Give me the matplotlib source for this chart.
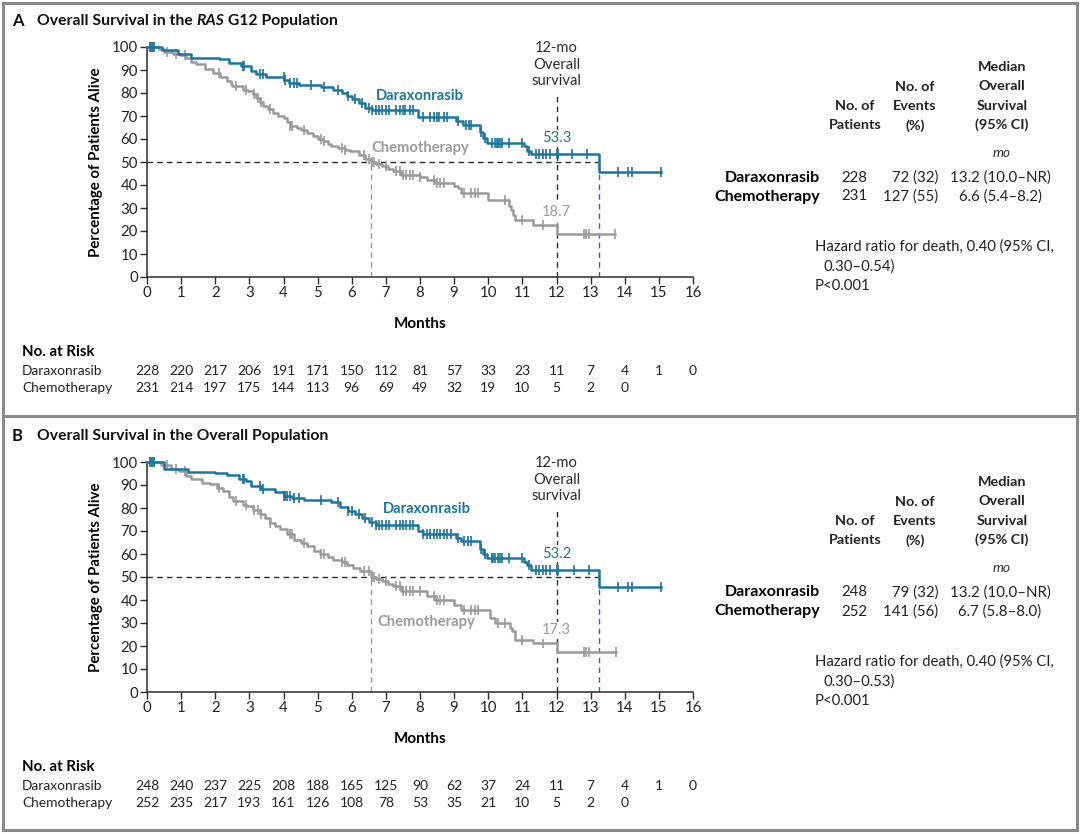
import numpy as np
import matplotlib
matplotlib.use('Agg')
import matplotlib.pyplot as plt
from matplotlib.lines import Line2D
from matplotlib.transforms import blended_transform_factory

plt.rcParams['font.family'] = ['Lato', 'DejaVu Sans']

TEAL = '#1a76a0'
GRAY = '#9b9b9b'
DARK = '#2b2b2b'

months = list(range(17))

# Panel A - RAS G12 population (step times, survival after step, last time)
a_dara_t = [0, 0.45, 0.9, 1.3, 2.1, 2.4, 2.75, 3.05, 3.2, 3.5, 4.02, 4.15, 4.45, 5.1, 5.45, 5.7,
            5.85, 6.0, 6.2, 6.4, 6.6, 7.95, 9.05, 9.25, 9.75, 9.85, 9.95, 11.05, 11.15, 11.25, 13.25, 15.06]
a_dara_s = [100, 98.5, 97, 95.3, 94.6, 93.2, 91.7, 89.5, 88.1, 87.1, 85.5, 84.4, 83.3, 82.7, 81.5, 80.1,
            78.5, 77.2, 75.5, 73.6, 72.5, 69.6, 67.7, 66.3, 63, 60.5, 58.3, 56.9, 55, 53.3, 45.5, 45.5]
a_dara_cens = [0.1, 0.15, 0.2, 2.8, 2.85, 3.3, 3.4, 4.0, 4.05, 4.2, 4.3, 4.4, 4.8, 5.2, 5.6, 5.9, 6.1,
               6.3, 6.5, 6.6, 6.7, 6.8, 6.9, 7.0, 7.1, 7.3, 7.4, 7.5, 7.55, 7.7, 7.8, 8.1, 8.3, 8.4,
               8.5, 8.55, 8.7, 8.8, 9.1, 9.35, 9.45, 9.5, 9.8, 9.9, 10.1, 10.2, 10.25, 10.3, 10.35,
               10.4, 10.6, 11.0, 11.2, 11.4, 11.5, 11.6, 11.7, 11.8, 12.0, 12.05, 12.45, 12.9, 13.8,
               14.1, 14.2, 15.06]

a_chemo_t = [0, 0.35, 0.5, 0.75, 0.97, 1.15, 1.3, 1.45, 1.7, 1.94, 2.15, 2.33, 2.45, 2.5, 2.8, 2.95,
             3.1, 3.2, 3.3, 3.4, 3.55, 3.7, 3.85, 4.0, 4.1, 4.2, 4.4, 4.5, 4.7, 4.85, 5.0, 5.15, 5.3,
             5.4, 5.6, 5.8, 5.95, 6.2, 6.4, 6.55, 6.7, 6.9, 7.05, 7.2, 7.45, 8.0, 8.2, 8.45, 9.0, 9.1,
             9.2, 10.0, 10.6, 10.67, 10.72, 10.77, 11.3, 12.0, 13.7]
a_chemo_s = [100, 99, 98, 97, 96.5, 95, 93.5, 92.4, 90.5, 88.8, 87, 85.2, 84, 83, 81.5, 80.8,
             79.5, 77.9, 76, 74.3, 73, 71.4, 70, 69.2, 67.5, 65.6, 64.8, 64.1, 62.5, 61.2, 60, 59, 57.8,
             56.8, 56, 55.4, 54.6, 53.2, 51.5, 49.8, 49, 48.1, 47, 45.9, 44.5, 43.4, 42.3, 40.8, 39.7, 38.7,
             36.5, 33.6, 31, 29.2, 27, 24.9, 22.7, 18.7, 18.7]
a_chemo_cens = [0.1, 0.15, 0.2, 0.6, 0.85, 1.1, 2.1, 2.6, 2.9, 3.15, 3.25, 3.35, 3.6, 4.2, 4.25, 4.6,
                5.1, 5.2, 5.7, 5.8, 6.35, 6.5, 6.6, 6.65, 6.8, 7.0, 7.3, 7.4, 7.5, 7.6, 7.7, 7.8, 8.0,
                8.4, 8.5, 8.6, 8.7, 9.3, 9.5, 9.6, 9.7, 10.5, 11.0, 11.6, 12.8, 12.85, 12.95, 13.7]

# Panel B - overall population
b_dara_t = [0, 0.5, 1.2, 2.0, 2.35, 2.7, 2.9, 3.05, 3.35, 3.75, 4.0, 4.25, 4.6, 5.4, 5.65, 5.9, 6.1,
            6.3, 6.5, 6.7, 7.95, 8.1, 9.05, 9.2, 9.75, 9.85, 9.95, 11.05, 11.15, 11.25, 13.25, 15.06]
b_dara_s = [100, 97, 95.6, 95.1, 94.3, 92.5, 91.6, 89.7, 88.3, 87.1, 85.4, 84.2, 83.5, 82.5, 80.4, 78.7, 77.2,
            75.5, 74, 72.4, 70.2, 68.5, 67, 65.6, 62, 60, 58.3, 56.5, 55.4, 53.2, 45.7, 45.7]
b_dara_cens = [0.1, 0.15, 0.2, 2.8, 2.85, 3.3, 3.4, 4.0, 4.05, 4.1, 4.2, 4.3, 4.45, 5.1, 5.6, 5.9, 6.0,
               6.2, 6.4, 6.6, 6.7, 6.8, 6.9, 7.0, 7.1, 7.3, 7.4, 7.5, 7.6, 7.7, 7.8, 8.1, 8.2, 8.3,
               8.4, 8.5, 8.6, 8.7, 8.8, 8.9, 9.1, 9.3, 9.4, 9.5, 9.8, 9.9, 10.1, 10.15, 10.2, 10.3, 10.35,
               10.4, 10.6, 11.0, 11.2, 11.4, 11.5, 11.6, 11.7, 11.8, 12.0, 12.05, 12.5, 12.95, 13.8,
               14.1, 14.2, 15.06]

b_chemo_t = [0, 0.4, 0.7, 0.95, 1.15, 1.3, 1.6, 1.85, 2.05, 2.24, 2.4, 2.53, 2.8, 2.92, 3.1, 3.3,
             3.45, 3.6, 3.75, 3.9, 4.1, 4.3, 4.5, 4.7, 4.9, 5.07, 5.3, 5.46, 5.7, 5.85, 6.05, 6.24, 6.55,
             6.7, 6.9, 7.05, 7.2, 7.45, 8.2, 8.45, 9.0, 9.2, 10.05, 10.2, 10.65, 10.7, 10.77, 11.3, 12.0, 13.74]
b_chemo_s = [100, 98.5, 97, 96.1, 94, 92.5, 91, 90.3, 88.5, 87.4, 85, 83, 81.5, 80.8, 79, 77.2,
             75.5, 73.6, 72, 70.7, 68.5, 66.3, 65, 63.4, 61.5, 59.8, 58.5, 57.6, 56.5, 55.4, 54, 52.5, 49.8,
             49, 48.2, 47, 46, 43.8, 41.6, 40.2, 38, 35.8, 32.2, 30, 28, 26.4, 22.8, 21.3, 17.3, 17.3]
b_chemo_cens = [0.1, 0.15, 0.2, 0.6, 0.85, 1.1, 2.1, 2.6, 2.9, 3.15, 3.25, 3.35, 3.6, 4.2, 4.25, 4.6,
                5.1, 5.2, 5.7, 5.8, 6.35, 6.5, 6.6, 6.65, 6.8, 7.0, 7.3, 7.4, 7.5, 7.6, 7.7, 7.8, 8.0,
                8.4, 8.5, 8.6, 8.7, 9.3, 9.5, 9.6, 9.7, 10.3, 10.5, 11.0, 11.6, 12.8, 12.85, 12.95, 13.74]

a_risk_dara = ['228', '220', '217', '206', '191', '171', '150', '112', '81', '57', '33', '23', '11', '7', '4', '1', '0']
a_risk_chemo = ['231', '214', '197', '175', '144', '113', '96', '69', '49', '32', '19', '10', '5', '2', '0']
b_risk_dara = ['248', '240', '237', '225', '208', '188', '165', '125', '90', '62', '37', '24', '11', '7', '4', '1', '0']
b_risk_chemo = ['252', '235', '217', '193', '161', '126', '108', '78', '53', '35', '21', '10', '5', '2', '0']

a_table = {'dara': ('228', '72 (32)', '13.2 (10.0\u2013NR)'),
           'chemo': ('231', '127 (55)', '6.6 (5.4\u20138.2)'),
           'hr': 'Hazard ratio for death, 0.40 (95% CI,', 'ci': '0.30\u20130.54)'}
b_table = {'dara': ('248', '79 (32)', '13.2 (10.0\u2013NR)'),
           'chemo': ('252', '141 (56)', '6.7 (5.8\u20138.0)'),
           'hr': 'Hazard ratio for death, 0.40 (95% CI,', 'ci': '0.30\u20130.53)'}

a_os12 = ('53.3', '18.7')
b_os12 = ('53.2', '17.3')

W, H = 1080, 834
fig = plt.figure(figsize=(W / 100, H / 100), dpi=100)


def fx(x):
    return x / W


def fy(y):
    return 1 - y / H


def surv_at(ts, ss, x):
    idx = np.searchsorted(ts, x, side='right') - 1
    return np.array(ss)[np.clip(idx, 0, len(ss) - 1)]


def median_time(ts, ss):
    for t, s in zip(ts, ss):
        if s < 50:
            return t
    return None


def draw_panel(y0, letter, title_parts, dara, chemo, os12, labels, risk, table):
    # y0: pixel offset of the panel
    ax = fig.add_axes([fx(147), fy(277 + y0), fx(693) - fx(147), fy(47 + y0) - fy(277 + y0)])
    for (ts, ss, cens), col in ((chemo, GRAY), (dara, TEAL)):
        ax.step(ts, ss, where='post', color=col, lw=1.8, clip_on=False, zorder=3)
        ax.plot(cens, surv_at(ts, ss, cens), ls='none', marker='|', ms=7, mew=1.2,
                color=col, clip_on=False, zorder=3)

    md = median_time(dara[0], dara[1])
    mc = median_time(chemo[0], chemo[1])
    ax.plot([0, md], [50, 50], ls=(0, (4, 3)), color=DARK, lw=1, zorder=2)
    ax.plot([12, 12], [0, 80], ls=(0, (4, 3)), color=DARK, lw=1, zorder=2)
    ax.plot([mc, mc], [0, 50], ls=(0, (4, 3)), color=GRAY, lw=1, zorder=2)
    ax.plot([md, md], [0, 50], ls=(0, (4, 3)), color=TEAL, lw=1, zorder=2)

    ax.text(12, 92.3, '12-mo\nOverall\nsurvival', ha='center', va='center', fontsize=10.6,
            color=DARK, linespacing=1.25)
    box = dict(facecolor='white', edgecolor='none', pad=1.0)
    ax.text(12, surv_at(dara[0], dara[1], 12) + 7, os12[0], ha='center', va='center',
            fontsize=10.6, color=TEAL, bbox=box, zorder=4)
    ax.text(12, surv_at(chemo[0], chemo[1], 12) + 9.5, os12[1], ha='center', va='center',
            fontsize=10.6, color=GRAY, bbox=box, zorder=4)
    (dx, dy), (cx, cy) = labels
    ax.text(dx, dy, 'Daraxonrasib', ha='center', va='center', fontsize=10.6,
            fontweight='bold', color=TEAL)
    ax.text(cx, cy, 'Chemotherapy', ha='center', va='center', fontsize=10.6,
            fontweight='bold', color=GRAY)

    ax.set_xlim(0, 16)
    ax.set_ylim(0, 100)
    ax.set_xticks(months)
    ax.set_yticks(range(0, 101, 10))
    for side in ('top', 'right'):
        ax.spines[side].set_visible(False)
    for side in ('left', 'bottom'):
        ax.spines[side].set_color(DARK)
        ax.spines[side].set_linewidth(1.1)
    ax.tick_params(direction='out', length=5, width=1, color=DARK, labelsize=10.8,
                   labelcolor='#222222', pad=1.5)
    ax.set_xlabel('Months', fontsize=11, fontweight='bold', labelpad=12)
    ax.set_ylabel('Percentage of Patients Alive', fontsize=10.8, fontweight='bold', labelpad=6)
    ax.patch.set_alpha(0)

    # title
    r = fig.canvas.get_renderer()
    fig.text(fx(12), fy(21 + y0), letter, fontsize=12, fontweight='bold', va='center', color='#111')
    x = fx(37)
    for txt, style in title_parts:
        t = fig.text(x, fy(21 + y0), txt, fontsize=11.3, fontweight='bold', style=style,
                     va='center', color='#111')
        x = t.get_window_extent(renderer=r).x1 / W

    # numbers at risk
    tr = blended_transform_factory(ax.transData, fig.transFigure)
    fig.text(fx(22), fy(352 + y0), 'No. at Risk', fontsize=10.8, fontweight='bold', va='center')
    for row, (name, vals) in enumerate((('Daraxonrasib', risk[0]), ('Chemotherapy', risk[1]))):
        yy = fy(371 + y0 + row * 17)
        fig.text(fx(22), yy, name, fontsize=9.9, va='center', color='#222')
        for m, v in zip(months, vals):
            fig.text(m, yy, v, transform=tr, fontsize=10, ha='center', va='center', color='#222')

    # summary table
    hdr = dict(fontsize=10.4, fontweight='bold', ha='center', va='center', color='#222')
    for i, line in enumerate(['No. of', 'Patients']):
        fig.text(fx(855), fy(106 + y0 + i * 19.3), line, **hdr)
    for i, line in enumerate(['No. of', 'Events', '(%)']):
        fig.text(fx(915), fy(87 + y0 + i * 19.3), line, **hdr)
    for i, line in enumerate(['Median', 'Overall', 'Survival', '(95% CI)']):
        fig.text(fx(1002), fy(67 + y0 + i * 19.3), line, **hdr)
    fig.text(fx(1002), fy(153 + y0), 'mo', fontsize=10, style='italic', ha='center',
             va='center', color='#333')
    for row, (name, key) in enumerate((('Daraxonrasib', 'dara'), ('Chemotherapy', 'chemo'))):
        yy = fy(177.5 + y0 + row * 19)
        n, ev, med = table[key]
        fig.text(fx(820), yy, name, fontsize=11.5, fontweight='bold', ha='right', va='center')
        fig.text(fx(854), yy, n, fontsize=10.8, ha='center', va='center', color='#222')
        fig.text(fx(938), yy, ev, fontsize=10.8, ha='right', va='center', color='#222')
        fig.text(fx(1000), yy, med, fontsize=10.8, ha='center', va='center', color='#222')
    fig.text(fx(815), fy(247 + y0), table['hr'], fontsize=10.7, va='center', color='#222')
    fig.text(fx(823), fy(266.5 + y0), table['ci'], fontsize=10.7, va='center', color='#222')
    fig.text(fx(815), fy(286 + y0), 'P<0.001', fontsize=10.7, va='center', color='#222')
    return ax


draw_panel(0, 'A', [('Overall Survival in the ', 'normal'), ('RAS', 'italic'), (' G12 Population', 'normal')],
           (a_dara_t, a_dara_s, a_dara_cens), (a_chemo_t, a_chemo_s, a_chemo_cens), a_os12,
           ((8.0, 78.5), (8.0, 56.3)), (a_risk_dara, a_risk_chemo), a_table)
draw_panel(415, 'B', [('Overall Survival in the Overall Population', 'normal')],
           (b_dara_t, b_dara_s, b_dara_cens), (b_chemo_t, b_chemo_s, b_chemo_cens), b_os12,
           ((8.2, 79.4), (8.18, 30.6)), (b_risk_dara, b_risk_chemo), b_table)

# panel frames
frame = dict(color='#8a8a8a', lw=2.2, transform=fig.transFigure)
for xs, ys in (([3, 1077], [3, 3]), ([3, 1077], [416, 416]), ([3, 1077], [830, 830]),
               ([3, 3], [3, 830]), ([1077, 1077], [3, 830])):
    fig.add_artist(Line2D([fx(v) for v in xs], [fy(v) for v in ys], **frame))

fig.savefig('out.png', dpi=100)
